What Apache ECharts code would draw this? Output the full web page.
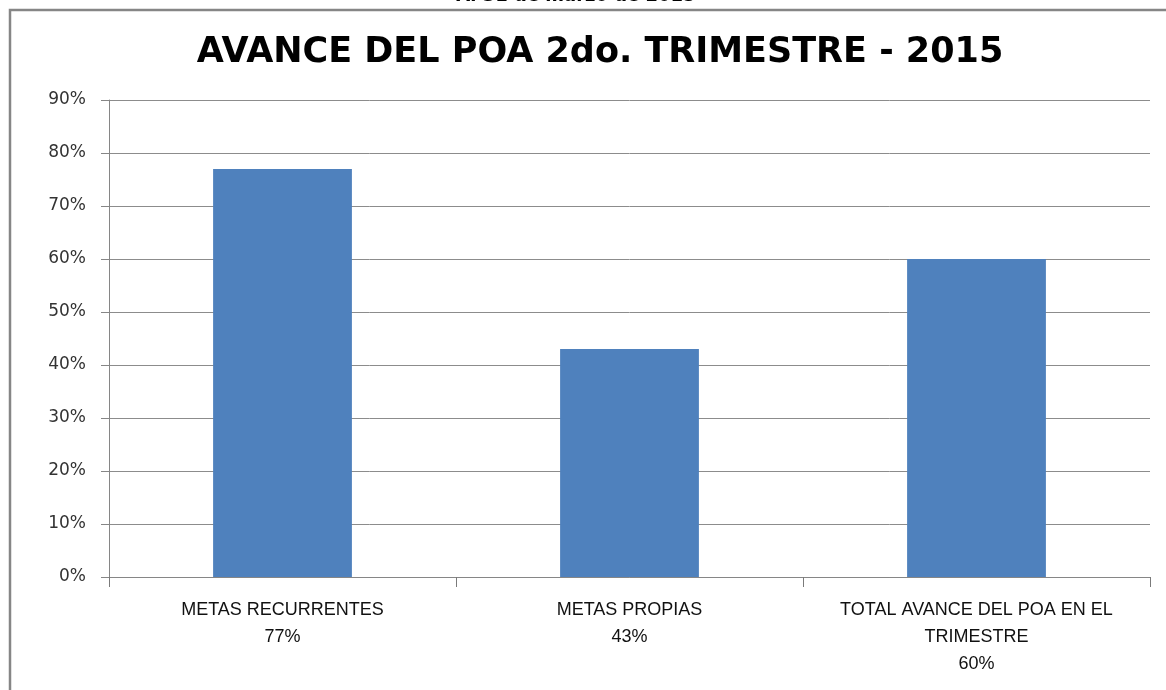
<!DOCTYPE html>
<html>
<head>
<meta charset="utf-8">
<script src="https://cdn.jsdelivr.net/npm/echarts@6/dist/echarts.min.js"></script>
<style>
html, body { margin: 0; padding: 0; background: #fff; }
#chart { width: 1166px; height: 690px; }
</style>
</head>
<body>
<div id="chart"></div>
<script>
var categories = ['METAS RECURRENTES', 'METAS PROPIAS', 'TOTAL AVANCE DEL POA EN EL\nTRIMESTRE'];
var avance = [77, 43, 60];
var yTicks = [0, 10, 20, 30, 40, 50, 60, 70, 80, 90];

var theChart = echarts.init(document.getElementById('chart'));

var option = {
	animation: false,
	title: [
		{
			text: 'Al 31 de marzo de 2015',
			left: 571, top: -19, textAlign: 'center',
			textStyle: { fontFamily: 'DejaVu Sans Condensed', fontWeight: 'bold', fontSize: 20, color: '#000' }
		},
		{
			text: 'AVANCE DEL POA 2do. TRIMESTRE - 2015',
			left: 595, top: 30, textAlign: 'center',
			textStyle: { fontFamily: 'DejaVu Sans', fontWeight: 'bold', fontSize: 35, color: '#000' }
		}
	],
	graphic: [{
		type: 'rect',
		shape: { x: 10, y: 10, width: 1200, height: 720 },
		style: { fill: 'none', stroke: '#868686', lineWidth: 2.5 }
	}],
	grid: { left: 109, right: 16, top: 100, bottom: 113 },
	xAxis: {
		type: 'category',
		data: categories,
		axisLine: { lineStyle: { color: '#868686' } },
		axisTick: { show: true, interval: 0, alignWithLabel: false, length: 10, lineStyle: { color: '#7a7a7a', width: 1 } },
		axisLabel: {
			interval: 0,
			margin: 20,
			lineHeight: 27,
			fontFamily: 'Liberation Sans',
			fontSize: 18,
			color: '#111',
			formatter: function (v, i) { return v + '\n' + avance[i] + '%'; }
		}
	},
	yAxis: {
		type: 'value',
		min: yTicks[0],
		max: yTicks[yTicks.length - 1],
		interval: 10,
		axisLine: { show: true, lineStyle: { color: '#868686' } },
		axisTick: { show: true, length: 8, lineStyle: { color: '#868686' } },
		splitLine: { lineStyle: { color: '#8c8c8c', width: 1 } },
		axisLabel: {
			margin: 23,
			fontFamily: 'DejaVu Sans',
			fontSize: 17,
			color: '#333',
			formatter: '{value}%'
		}
	},
	series: [{
		type: 'bar',
		data: avance,
		barWidth: '40%',
		itemStyle: { color: '#4f81bd' }
	}]
};

theChart.setOption(option);
</script>
</body>
</html>
